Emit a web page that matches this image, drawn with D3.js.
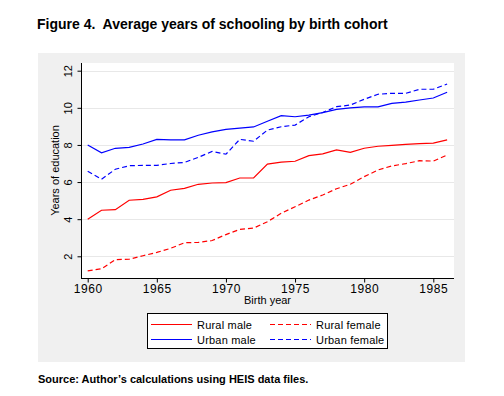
<!DOCTYPE html>
<html>
<head>
<meta charset="utf-8">
<script src="https://cdn.jsdelivr.net/npm/d3@7"></script>
<style>
  body { margin: 0; background: #fff; }
  svg text { font-family: "Liberation Sans", Arial, sans-serif; white-space: pre; }
</style>
</head>
<body>
<svg id="chart" width="504" height="396"></svg>
<script>
// data
var years = [1960, 1961, 1962, 1963, 1964, 1965, 1966, 1967, 1968, 1969, 1970, 1971, 1972,
  1973, 1974, 1975, 1976, 1977, 1978, 1979, 1980, 1981, 1982, 1983, 1984, 1985, 1986];
var ruralMale = [4.0, 4.48, 4.51, 5.02, 5.07, 5.2, 5.56, 5.66, 5.88, 5.95, 5.97, 6.22, 6.22,
  6.97, 7.07, 7.12, 7.42, 7.52, 7.73, 7.6, 7.82, 7.93, 7.98, 8.03, 8.07, 8.1, 8.27];
var ruralFemale = [1.21, 1.33, 1.82, 1.84, 2.03, 2.21, 2.43, 2.73, 2.75, 2.85, 3.17, 3.45, 3.52,
  3.86, 4.32, 4.67, 5.03, 5.3, 5.64, 5.88, 6.29, 6.65, 6.87, 6.99, 7.15, 7.13, 7.46];
var urbanMale = [8.0, 7.58, 7.82, 7.87, 8.05, 8.3, 8.27, 8.27, 8.52, 8.7, 8.84, 8.91, 8.97,
  9.28, 9.58, 9.52, 9.61, 9.74, 9.92, 10.0, 10.05, 10.05, 10.24, 10.31, 10.42, 10.53, 10.84];
var urbanFemale = [6.58, 6.15, 6.69, 6.88, 6.9, 6.9, 7.0, 7.06, 7.33, 7.65, 7.5, 8.3, 8.2,
  8.8, 8.98, 9.07, 9.52, 9.75, 10.06, 10.15, 10.46, 10.73, 10.78, 10.78, 11.0, 11.0, 11.28];

var xTicks = [1960, 1965, 1970, 1975, 1980, 1985];
var yTicks = [2, 4, 6, 8, 10, 12];

var seriesNames = ["Rural male", "Rural female", "Urban male", "Urban female"];
var seriesValues = [ruralMale, ruralFemale, urbanMale, urbanFemale];
var seriesColors = ["#ff0000", "#ff0000", "#0000ff", "#0000ff"];
var seriesDashed = [false, true, false, true];

var svg = d3.select("#chart");

// plot region
var plot = { left: 81, right: 454, top: 63, bottom: 278 };

var x = d3.scaleLinear().domain([1960, 1985]).range([87.7, 433.3]);
var y = d3.scaleLinear().domain([2, 12]).range([256.3, 70.7]);

// title
svg.append("text")
    .attr("x", 37).attr("y", 29)
    .attr("font-size", 14).attr("font-weight", "bold")
    .text("Figure 4.  Average years of schooling by birth cohort");

// grey graph region
svg.append("rect")
    .attr("x", 38).attr("y", 53).attr("width", 427).attr("height", 309)
    .attr("fill", "#f0f0f0");

svg.append("rect")
    .attr("x", plot.left).attr("y", plot.top)
    .attr("width", plot.right - plot.left).attr("height", plot.bottom - plot.top)
    .attr("fill", "#fff");

// gridlines
svg.append("g").selectAll("line")
    .data(yTicks)
    .enter().append("line")
      .attr("x1", plot.left).attr("x2", plot.right)
      .attr("y1", function(d) { return Math.round(y(d)) + 0.5; })
      .attr("y2", function(d) { return Math.round(y(d)) + 0.5; })
      .attr("stroke", "#e8e8e8").attr("stroke-width", 1);

// y axis
var yAxis = svg.append("g")
    .attr("transform", "translate(" + (plot.left + 0.5) + ",0)")
    .call(d3.axisLeft(y).tickValues(yTicks).tickSize(4).tickPadding(3));
yAxis.select(".domain").attr("d", "M0," + plot.top + "V" + plot.bottom);
yAxis.selectAll(".tick text")
    .attr("font-size", 11)
    .attr("font-family", "Liberation Sans, Arial, sans-serif")
    .attr("text-anchor", "middle")
    .attr("transform", "translate(-10,0) rotate(-90)")
    .attr("x", 0).attr("y", 0).attr("dy", "0");

// x axis
var xAxis = svg.append("g")
    .attr("transform", "translate(0," + (plot.bottom + 0.5) + ")")
    .call(d3.axisBottom(x).tickValues(xTicks).tickSize(4).tickPadding(2).tickFormat(d3.format("d")));
xAxis.select(".domain").attr("d", "M" + plot.left + ",0H" + plot.right);
xAxis.selectAll(".tick text")
    .attr("font-size", 12)
    .attr("font-family", "Liberation Sans, Arial, sans-serif")
    .attr("letter-spacing", 0.6);

// axis titles
svg.append("text")
    .attr("transform", "translate(59," + ((plot.top + plot.bottom) / 2) + ") rotate(-90)")
    .attr("text-anchor", "middle")
    .attr("font-size", 11)
    .text("Years of education");

svg.append("text")
    .attr("x", (plot.left + plot.right) / 2).attr("y", 304)
    .attr("text-anchor", "middle")
    .attr("font-size", 11)
    .text("Birth year");

// lines
var line = d3.line()
    .x(function(d, i) { return x(years[i]); })
    .y(function(d) { return y(d); });

svg.append("g").selectAll("path")
    .data(seriesValues)
    .enter().append("path")
      .attr("d", line)
      .attr("fill", "none")
      .attr("stroke", function(d, i) { return seriesColors[i]; })
      .attr("stroke-width", 1.2)
      .attr("stroke-dasharray", function(d, i) { return seriesDashed[i] ? "5,3" : null; });

// legend
var legend = svg.append("g");
legend.append("rect")
    .attr("x", 147.5).attr("y", 313.5).attr("width", 240).attr("height", 35)
    .attr("fill", "#fff").attr("stroke", "#000").attr("stroke-width", 1);

var legendCols = [151, 270];
var legendRows = [324.5, 339.5];
// order in the box: rural male, rural female / urban male, urban female
var item = legend.selectAll("g.item")
    .data(seriesNames)
    .enter().append("g")
      .attr("class", "item")
      .attr("transform", function(d, i) {
        return "translate(" + legendCols[i % 2] + "," + legendRows[Math.floor(i / 2)] + ")";
      });

item.append("line")
    .attr("x1", 0).attr("x2", 41).attr("y1", 0).attr("y2", 0)
    .attr("stroke", function(d, i) { return seriesColors[i]; })
    .attr("stroke-width", 1.2)
    .attr("stroke-dasharray", function(d, i) { return seriesDashed[i] ? "5,3" : null; });

item.append("text")
    .attr("x", 46).attr("y", 4)
    .attr("font-size", 11)
    .attr("letter-spacing", 0.2)
    .text(function(d) { return d; });

// source note
svg.append("text")
    .attr("x", 38).attr("y", 383)
    .attr("font-size", 11).attr("font-weight", "bold")
    .text("Source: Author\u2019s calculations using HEIS data files.");
</script>
</body>
</html>
